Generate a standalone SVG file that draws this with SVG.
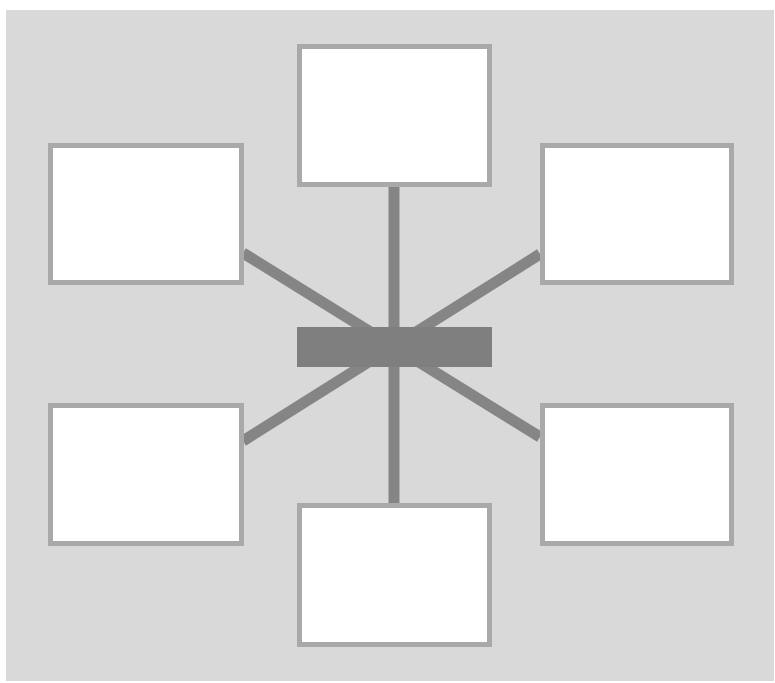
<svg xmlns="http://www.w3.org/2000/svg" width="775" height="683" viewBox="0 0 775 683">
<style>
.box{fill:#ffffff;stroke:#a9a9a9;stroke-width:5}
.conn{stroke:#858585;stroke-width:11;fill:none}
</style>
<rect x="0" y="0" width="775" height="683" fill="#ffffff"/>
<rect x="6" y="10" width="768" height="671" fill="#d9d9d9"/>
<g id="connectors">
<line class="conn" x1="243" y1="253" x2="540" y2="437"/>
<line class="conn" x1="243" y1="441" x2="540" y2="254"/>
<line class="conn" x1="394" y1="187" x2="394" y2="503" stroke-width="12"/>
<rect x="297" y="327" width="195" height="40" fill="#7f7f7f"/>
</g>
<g id="node-top"><rect class="box" x="299.5" y="46.5" width="190" height="138"/></g>
<g id="node-top-left"><rect class="box" x="50.5" y="145.5" width="191" height="137"/></g>
<g id="node-top-right"><rect class="box" x="542.5" y="145.5" width="189" height="137"/></g>
<g id="node-bottom-left"><rect class="box" x="50.5" y="405.5" width="191" height="138"/></g>
<g id="node-bottom-right"><rect class="box" x="542.5" y="405.5" width="189" height="138"/></g>
<g id="node-bottom"><rect class="box" x="299.5" y="505.5" width="190" height="139"/></g>
</svg>
